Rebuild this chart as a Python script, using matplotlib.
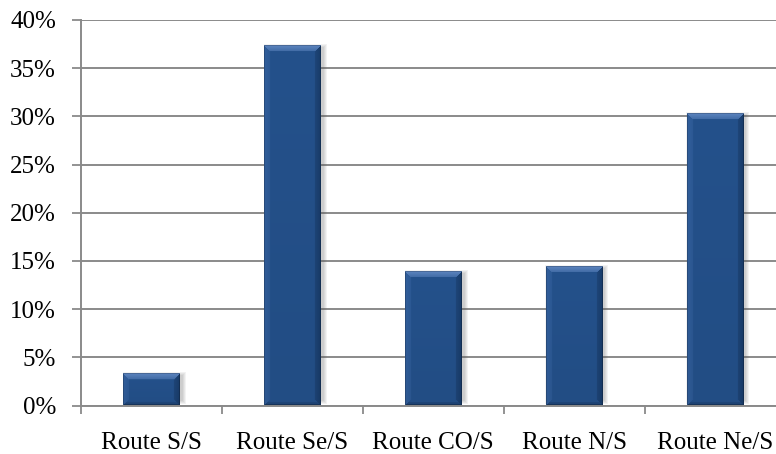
import numpy as np
import matplotlib
matplotlib.use('Agg')
import matplotlib.pyplot as plt
from matplotlib.ticker import PercentFormatter

# share of flows per route
routes = ['Route S/S', 'Route Se/S', 'Route CO/S', 'Route N/S', 'Route Ne/S']
shares = [3.25, 37.3, 13.9, 14.4, 30.2]
y_ticks = [0, 5, 10, 15, 20, 25, 30, 35, 40]

plt.rcParams['font.family'] = ['Liberation Serif', 'DejaVu Serif']

W, H, DPI = 776, 454, 100
fig = plt.figure(figsize=(W / DPI, H / DPI), dpi=DPI)
# axes runs a little past the right edge of the figure
left, right, bottom, top = 81, 785.5, 405.5, 20
ax = fig.add_axes([left / W, (H - bottom) / H, (right - left) / W, (bottom - top) / H])

grey = '#8a8a8a'
bar_w = 0.4
px_per_x = (right - left) / 5.0
px_per_y = (bottom - top) / 40.0

base = np.array([36, 81, 139]) / 255
top_c = np.array([92, 132, 190]) / 255
left_c = np.array([50, 95, 156]) / 255
right_c = np.array([25, 60, 106]) / 255
bot_c = np.array([30, 68, 118]) / 255


def bevel_image(w, h, bevel=6):
    w, h = max(int(round(w)), 2), max(int(round(h)), 2)
    img = np.zeros((h, w, 3))
    ii, jj = np.mgrid[0:h, 0:w]
    d = np.stack([ii, jj, w - 1 - jj, h - 1 - ii])  # top, left, right, bottom
    side = d.argmin(axis=0)
    m = d.min(axis=0)
    img[:] = base
    cols = [top_c, left_c, right_c, bot_c]
    widths = [bevel, bevel, bevel, 3]
    for k in range(4):
        mask = (side == k) & (m < widths[k])
        t = (m[mask] / widths[k])[:, None]
        img[mask] = cols[k] * (1 - t * 0.5) + base * t * 0.5
    # slight vertical shading in the body
    img *= (1.0 - 0.05 * ii / h)[:, :, None]
    edge = m == 0
    img[edge] = img[edge] * 0.8
    return np.clip(img, 0, 1)


def shadow_image(w, h, blur=4):
    w, h = int(round(w)) + 2 * blur, int(round(h)) + blur
    ii, jj = np.mgrid[0:h, 0:w]
    dx = np.minimum(jj, w - 1 - jj)
    dy = np.minimum(ii, h - 1 - ii)
    a = np.clip(np.minimum(dx, dy) / blur, 0, 1) * 0.3
    img = np.zeros((h, w, 4))
    img[..., :3] = 0.35
    img[..., 3] = a
    return img


for i, v in enumerate(shares):
    wpx = bar_w * px_per_x
    hpx = v * px_per_y
    # soft shadow, offset right
    sh = shadow_image(wpx, hpx)
    ox = 2.5 / px_per_x
    bx = 4 / px_per_x
    ax.imshow(sh, extent=(i - bar_w / 2 - bx + ox, i + bar_w / 2 + bx + ox, 0, v + 2 / px_per_y),
              aspect='auto', interpolation='bilinear', zorder=2)
    ax.imshow(bevel_image(wpx, hpx), extent=(i - bar_w / 2, i + bar_w / 2, 0, v),
              aspect='auto', interpolation='bilinear', zorder=3)

ax.set_xlim(-0.5, 4.5)
ax.set_ylim(0, 40)
ax.set_yticks(y_ticks)
ax.yaxis.set_major_formatter(PercentFormatter(decimals=0))
ax.set_xticks(np.arange(len(routes)))
ax.set_xticklabels(routes)
ax.set_xticks(np.arange(len(routes) + 1) - 0.5, minor=True)
ax.tick_params(axis='x', which='major', length=0, pad=19, labelsize=18)
ax.tick_params(axis='x', which='minor', length=6, width=1.3, color=grey, direction='out')
ax.tick_params(axis='y', length=6.5, width=1.3, color=grey, pad=11.5, labelsize=18)

ax.grid(axis='y', color=grey, linewidth=1.4, zorder=1)
ax.set_axisbelow(True)
for s in ['top', 'right']:
    ax.spines[s].set_visible(False)
for s in ['left', 'bottom']:
    ax.spines[s].set_color(grey)
    ax.spines[s].set_linewidth(1.4)

fig.savefig('out.png', dpi=DPI)
